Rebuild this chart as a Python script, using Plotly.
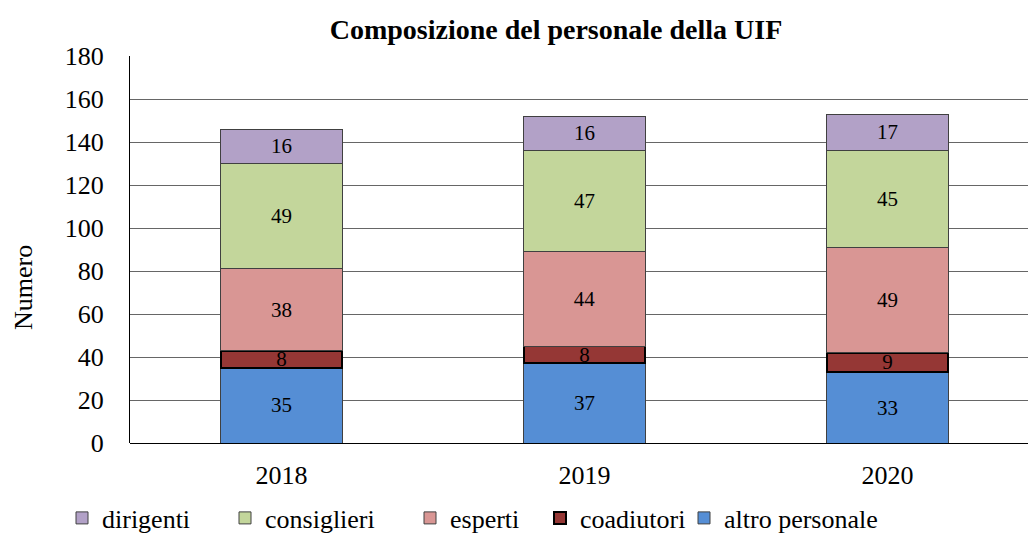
import plotly.graph_objects as go

years = ["2018", "2019", "2020"]
altro = [35, 37, 33]
coadiutori = [8, 8, 9]
esperti = [38, 44, 49]
consiglieri = [49, 47, 45]
dirigenti = [16, 16, 17]

# name, values, fill, outline colour, outline width, legend id, legend x (px)
series = [
    ("altro personale", altro, "#558ED5", "#404040", 1, "legend5", 684),
    ("coadiutori", coadiutori, "#953735", "#000000", 2, "legend4", 540),
    ("esperti", esperti, "#D99694", "#404040", 1, "legend3", 410),
    ("consiglieri", consiglieri, "#C3D69B", "#404040", 1, "legend2", 225),
    ("dirigenti", dirigenti, "#B2A1C7", "#404040", 1, "legend", 62),
]

FONT = "Liberation Serif"
fig = go.Figure()
legends = {}
for name, vals, col, lc, lw, lg, lx in series:
    fig.add_trace(go.Bar(
        x=years, y=vals, name=name, legend=lg,
        marker=dict(color=col, line=dict(color=lc, width=lw)),
        text=[str(v) for v in vals], textposition="inside", textangle=0,
        insidetextanchor="middle", constraintext="none",
        insidetextfont=dict(family=FONT, size=21, color="#000000"),
        hoverinfo="skip",
    ))
    legends[lg] = dict(orientation="h",
                       x=lx / 1028, xref="container", xanchor="left",
                       y=1 - 518 / 533, yref="container", yanchor="middle",
                       font=dict(family=FONT, size=26, color="#000000"),
                       itemwidth=30, bgcolor="rgba(0,0,0,0)")

fig.add_annotation(
    text="Numero", textangle=-90, showarrow=False,
    xref="paper", yref="paper", x=(23 - 130) / 898, y=(443 - 288) / 387,
    xanchor="center", yanchor="middle",
    font=dict(family=FONT, size=26, color="#000000"),
)

fig.update_layout(
    barmode="stack", bargap=0.6,
    width=1028, height=533,
    margin=dict(l=130, r=0, t=56, b=90, autoexpand=False),
    paper_bgcolor="white", plot_bgcolor="white",
    font=dict(family=FONT, size=26, color="#000000"),
    title=dict(text="<b>Composizione del personale della UIF</b>",
               x=556/1028, xref="container", xanchor="center",
               y=1 - 29/533, yref="container", yanchor="middle",
               font=dict(family=FONT, size=28, color="#000000")),
    showlegend=True,
    xaxis=dict(range=[-0.5, 2.464], showline=False, ticks="",
               tickfont=dict(family=FONT, size=26), showgrid=False,
               ticklabelstandoff=14),
    yaxis=dict(range=[0, 180], dtick=20, showgrid=True, gridcolor="#666666",
               gridwidth=1, showline=True, linecolor="#000000", linewidth=1,
               ticks="", tickfont=dict(family=FONT, size=26),
               ticklabelstandoff=20,
               zeroline=True, zerolinecolor="#000000", zerolinewidth=1),
    **legends,
)

fig.write_html("out.html", config={"displayModeBar": False},
               post_script="document.body.style.margin='0';document.body.style.overflow='hidden';")
